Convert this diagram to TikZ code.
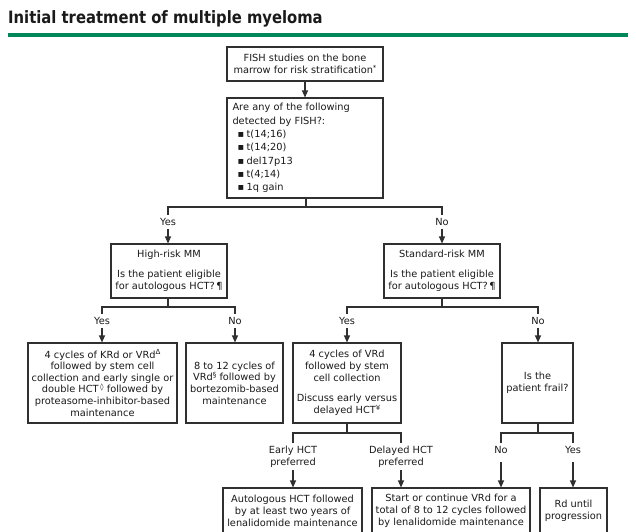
\documentclass[tikz,border=0pt]{standalone}
\usepackage{fontspec}
\setmainfont{DejaVu Sans}
\newfontfamily\titlefont[FakeStretch=0.87]{DejaVu Sans}
\usetikzlibrary{arrows.meta}
%
\definecolor{mmgreen}{HTML}{00875A}
\definecolor{mmline}{HTML}{303030}
\definecolor{mmtext}{HTML}{1A1A1A}
\newcommand{\boxfont}{\fontsize{9.8}{12}\selectfont}
\newcommand{\fnmark}[1]{\raisebox{3.2pt}{\fontsize{7}{7}\selectfont #1}}
\newcommand{\bulitem}[1]{\hspace*{5pt}▪\hspace{2.5pt}#1}
%
\tikzset{
	flowbox/.style={draw=mmline, line width=1.1pt, align=center,
		inner sep=2pt, font=\boxfont, text=mmtext},
	branchlabel/.style={font=\boxfont, text=mmtext, inner sep=3pt, align=center},
	link/.style={draw=mmline, line width=1.1pt},
	arrow/.style={link, -{Triangle[length=7pt,width=6pt]}}
}
%
\begin{document}
\begin{tikzpicture}[
	x=1pt, y=-1pt,% pixel grid of the page, y runs down
	line join=miter
]
\clip (0,0) rectangle (636,531);
\fill[white] (0,0) rectangle (636,531);
%
% heading
\node(title)%
    [anchor=base west, inner sep=0pt, text=mmtext,
     font=\titlefont\bfseries\fontsize{17}{19}\selectfont]%
    at (8,23.5) {Initial treatment of multiple myeloma};%
\draw[mmgreen, line width=4pt] (8,35) -- (628,35);%
%
% risk stratification
\node(fish_box)%
    [flowbox, minimum width=156pt, minimum height=34pt]%
    at (305,64) {FISH studies on the bone\\marrow for risk stratification\fnmark{*}};%
\node(q_box)%
    [flowbox, minimum width=156pt, minimum height=100pt, align=left,
     text width=145pt, font=\fontsize{9.8}{13.3}\selectfont]%
    at (305,148) {Are any of the following\\detected by FISH?:\\
    \bulitem{t(14;16)}\\\bulitem{t(14;20)}\\\bulitem{del17p13}\\
    \bulitem{t(4;14)}\\\bulitem{1q gain}};%
\coordinate(risk_split) at (306,207);%
\node(yes_risk)[branchlabel] at (168,222) {Yes};%
\node(no_risk)[branchlabel] at (442,222) {No};%
%
\node(high_box)%
    [flowbox, minimum width=116pt, minimum height=54pt]%
    at (169,271) {High-risk MM\\[8pt]Is the patient eligible\\for autologous HCT?\,¶};%
\node(std_box)%
    [flowbox, minimum width=116pt, minimum height=54pt]%
    at (442,271) {Standard-risk MM\\[8pt]Is the patient eligible\\for autologous HCT?\,¶};%
%
% eligibility, high risk
\coordinate(high_split) at (168,307);%
\node(yes_high)[branchlabel] at (102,321) {Yes};%
\node(no_high)[branchlabel] at (235,321) {No};%
\node(krd_box)%
    [flowbox, minimum width=149pt, minimum height=80pt,
     font=\fontsize{9.8}{11.6}\selectfont]%
    at (102.5,383) {4 cycles of KRd or VRd\fnmark{Δ}\\followed by stem cell\\
    collection and early single or\\double HCT\,\fnmark{◊} followed by\\
    proteasome-inhibitor-based\\maintenance};%
\node(vrd12_box)%
    [flowbox, minimum width=97pt, minimum height=80pt,
     font=\fontsize{9.8}{11.6}\selectfont]%
    at (234.5,383) {8 to 12 cycles of\\VRd\fnmark{§} followed by\\bortezomib-based\\maintenance};%
%
% eligibility, standard risk
\coordinate(std_split) at (442,307);%
\node(yes_std)[branchlabel] at (347,321) {Yes};%
\node(no_std)[branchlabel] at (538,321) {No};%
\node(vrd4_box)%
    [flowbox, minimum width=108pt, minimum height=80pt]%
    at (347,383) {4 cycles of VRd\\followed by stem\\cell collection\\[8pt]
    Discuss early versus\\delayed HCT\fnmark{¥}};%
\node(frail_box)%
    [flowbox, minimum width=71pt, minimum height=80pt]%
    at (537.5,383) {Is the\\patient frail?};%
%
% timing of HCT, frailty
\coordinate(hct_split) at (347,433);%
\node(early_hct)[branchlabel] at (293,456.5) {Early HCT\\preferred};%
\node(late_hct)[branchlabel] at (401,456.5) {Delayed HCT\\preferred};%
\coordinate(frail_split) at (538,433);%
\node(no_frail)[branchlabel] at (501,450) {No};%
\node(yes_frail)[branchlabel] at (573,450) {Yes};%
%
\node(auto_box)%
    [flowbox, minimum width=139pt, minimum height=45pt]%
    at (292.5,510.5) {Autologous HCT followed\\by at least two years of\\lenalidomide maintenance};%
\node(cont_box)%
    [flowbox, minimum width=158pt, minimum height=45pt]%
    at (451,510.5) {Start or continue VRd for a\\total of 8 to 12 cycles followed\\by lenalidomide maintenance};%
\node(rd_box)%
    [flowbox, minimum width=67pt, minimum height=45pt]%
    at (573.5,510.5) {Rd until\\progression};%
%
% connectors
\draw[arrow] (fish_box) -- (q_box);%
\draw[link] (q_box.south -| risk_split) -- (risk_split);%
\draw[link] (yes_risk.north) |- (risk_split) -| (no_risk.north);%
\draw[arrow] (yes_risk.south) -- (yes_risk.south |- high_box.north);%
\draw[arrow] (no_risk.south) -- (no_risk.south |- std_box.north);%
%
\draw[link] (high_box.south -| high_split) -- (high_split);%
\draw[link] (yes_high.north) |- (high_split) -| (no_high.north);%
\draw[arrow] (yes_high.south) -- (yes_high.south |- krd_box.north);%
\draw[arrow] (no_high.south) -- (no_high.south |- vrd12_box.north);%
%
\draw[link] (std_box.south -| std_split) -- (std_split);%
\draw[link] (yes_std.north) |- (std_split) -| (no_std.north);%
\draw[arrow] (yes_std.south) -- (yes_std.south |- vrd4_box.north);%
\draw[arrow] (no_std.south) -- (no_std.south |- frail_box.north);%
%
\draw[link] (vrd4_box.south -| hct_split) -- (hct_split);%
\draw[link] (early_hct.north) |- (hct_split) -| (late_hct.north);%
\draw[arrow] (early_hct.south) -- (early_hct.south |- auto_box.north);%
\draw[arrow] (late_hct.south) -- (late_hct.south |- cont_box.north);%
%
\draw[link] (frail_box.south -| frail_split) -- (frail_split);%
\draw[link] (no_frail.north) |- (frail_split) -| (yes_frail.north);%
\draw[arrow, shorten <=5pt] (no_frail.south) -- (no_frail.south |- cont_box.north);%
\draw[arrow, shorten <=5pt] (yes_frail.south) -- (yes_frail.south |- rd_box.north);%
%
\end{tikzpicture}
\end{document}
